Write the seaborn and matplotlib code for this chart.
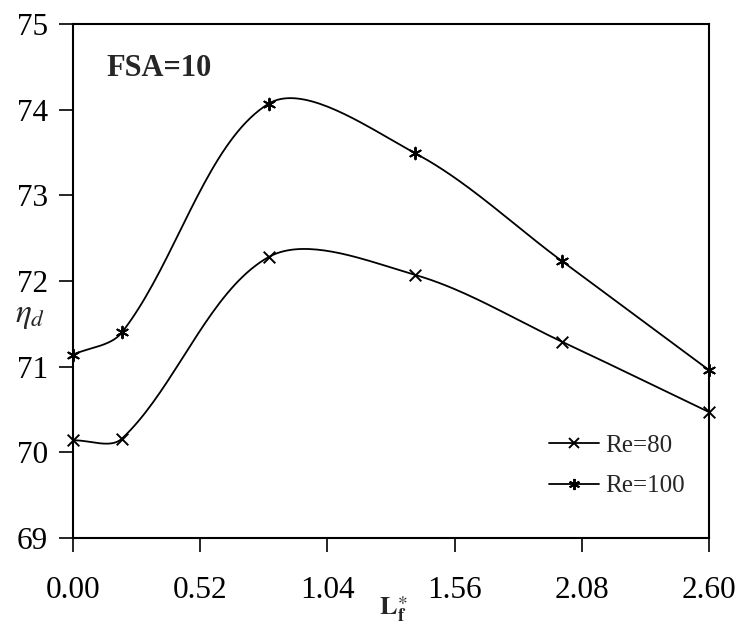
import numpy as np
import pandas as pd
import matplotlib
matplotlib.use("Agg")
import matplotlib.pyplot as plt
import seaborn as sns
from matplotlib.lines import Line2D

# ---- data ----
lf = [0.0, 0.2, 0.8, 1.4, 2.0, 2.6]
re80 = [70.14, 70.16, 72.28, 72.07, 71.29, 70.47]
re100 = [71.14, 71.40, 74.07, 73.49, 72.23, 70.96]
series_labels = ["Re=80", "Re=100"]
xticks = [0.00, 0.52, 1.04, 1.56, 2.08, 2.60]
yticks = [69, 70, 71, 72, 73, 74, 75]
annotation = "FSA=10"

sns.set_theme(style="ticks")
plt.rcParams['font.family'] = ['Liberation Serif', 'DejaVu Serif']
plt.rcParams['mathtext.fontset'] = 'stix'

W, H = 742, 627
fig = plt.figure(figsize=(W / 100, H / 100), dpi=100)
ax = fig.add_axes([73 / W, 1 - 538 / H, (709 - 73) / W, (538 - 24) / H])
ax.set_xlim(0, 2.6)
ax.set_ylim(69, 75)


def smooth_curve(xs, ys, n=40):
    """Excel-like smoothed line (Bezier segments) computed in display space."""
    pts = ax.transData.transform(np.column_stack([xs, ys]))
    out = []
    m = len(pts)
    for i in range(m - 1):
        p0 = pts[i - 1] if i > 0 else pts[i]
        p1 = pts[i]
        p2 = pts[i + 1]
        p3 = pts[i + 2] if i + 2 < m else pts[i + 1]
        d01 = np.linalg.norm(p1 - p0)
        d12 = np.linalg.norm(p2 - p1)
        d23 = np.linalg.norm(p3 - p2)
        c1 = p1 + (p2 - p0) * d12 / (3 * (d01 + d12))
        c2 = p2 - (p3 - p1) * d12 / (3 * (d12 + d23))
        t = np.linspace(0, 1, n)[:, None]
        if i < m - 2:
            t = t[:-1]
        b = ((1 - t) ** 3) * p1 + 3 * ((1 - t) ** 2) * t * c1 + 3 * (1 - t) * t ** 2 * c2 + t ** 3 * p2
        out.append(b)
    out = np.vstack(out)
    back = ax.transData.inverted().transform(out)
    return back[:, 0], back[:, 1]


for ys, mk in [(re80, 'x'), (re100, (6, 2, 0))]:
    sx, sy = smooth_curve(lf, ys)
    sns.lineplot(x=sx, y=sy, ax=ax, color='black', lw=1.3, sort=False,
                 estimator=None, legend=False)
    sns.scatterplot(x=lf, y=ys, ax=ax, marker=mk, s=70, color='black',
                    linewidth=1.4, legend=False, zorder=3, clip_on=False)

ax.set_xlim(0, 2.6)
ax.set_ylim(69, 75)
ax.set_xticks(xticks)
ax.set_xticklabels([f"{v:.2f}" for v in xticks])
ax.set_yticks(yticks)
ax.set_yticklabels([str(v) for v in yticks])
ax.tick_params(axis='both', direction='out', length=10, width=1.2,
               labelsize=22.5, colors='black')
ax.tick_params(axis='x', pad=17)
ax.tick_params(axis='y', pad=8)
for sp in ax.spines.values():
    sp.set_visible(True)
    sp.set_color('black')
    sp.set_linewidth(1.5)
ax.set_xlabel("")
ax.set_ylabel("")

ax.text((106 - 73) / 636, (538 - 68) / 514, annotation, transform=ax.transAxes,
        fontsize=22, fontweight='bold', ha='left', va='center')

fig.text(30 / W, 1 - 316 / H, r"$\eta_d$", fontsize=24, ha='center', va='center')
fig.text(393 / W, 1 - 609 / H, r"$\mathbf{L}_{\mathbf{f}}^{\ast}$", fontsize=19,
         ha='center', va='center')

handles = [
    Line2D([], [], color='black', lw=1.3, marker='x', markersize=7, mew=1.4),
    Line2D([], [], color='black', lw=1.3, marker=(6, 2, 0), markersize=8, mew=1.4),
]
ax.legend(handles, series_labels, loc='upper left',
          bbox_to_anchor=((549 - 73) / 636, (538 - 434) / 514),
          frameon=False, fontsize=18, handlelength=2.0, handletextpad=0.25,
          borderpad=0, borderaxespad=0, labelspacing=0.74)

fig.savefig("out.png", dpi=100)
